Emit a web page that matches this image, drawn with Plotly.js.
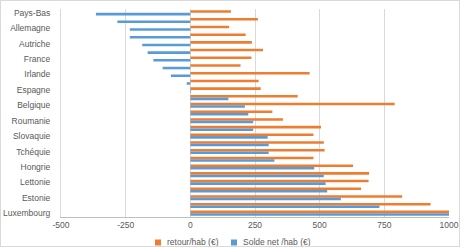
<!DOCTYPE html>
<html>
<head>
<meta charset="utf-8">
<script src="https://cdn.plot.ly/plotly-3.0.1.min.js"></script>
<style>
html,body{margin:0;padding:0;background:#fff;}
#chart{width:458px;height:245px;border:1px solid #d9d9d9;}
</style>
</head>
<body>
<div id="chart"></div>
<script>
const countries = ["Pays-Bas","Suède","Allemagne","Danemark","Autriche","Finlande","France","Italie","Irlande","Chypre","Espagne","Slovénie","Belgique","Malte","Roumanie","Croatie","Slovaquie","Bulgarie","Tchéquie","Pologne","Hongrie","Portugal","Lettonie","Lituanie","Estonie","Grèce","Luxembourg"];
const labeled = ["Pays-Bas","Allemagne","Autriche","France","Irlande","Espagne","Belgique","Roumanie","Slovaquie","Tchéquie","Hongrie","Lettonie","Estonie","Luxembourg"];
const retour = [157,261,150,214,238,281,236,194,461,264,272,415,790,317,358,505,476,516,519,476,629,691,689,660,819,929,1000];
const solde = [-365,-282,-234,-234,-186,-165,-143,-107,-75,-14,3,147,211,224,243,243,299,303,303,325,479,516,523,529,582,731,1000];
const xTicks = [-500,-250,0,250,500,750,1000];
const seriesNames = ["retour/hab (€)","Solde net /hab (€)"];
const seriesColors = ["#ED7D31","#5B9BD5"];

const font = {family:"Liberation Sans, Arial, sans-serif", size:8.5, color:"#595959"};
const traces = [
  {type:"bar", orientation:"h", name:seriesNames[0], y:countries, x:retour, marker:{color:seriesColors[0]}},
  {type:"bar", orientation:"h", name:seriesNames[1], y:countries, x:solde, marker:{color:seriesColors[1]}}
];

// custom legend (small squares like the reference)
const W = 388, H = 208;
const px = v => (v - 61) / W;
const py = v => (217 - v) / H;
const legSq = [[155,161],[231,237]];
const legTx = [165,241];
const shapes = [], annotations = [];
for (let i = 0; i < 2; i++) {
  shapes.push({type:"rect", xref:"paper", yref:"paper", x0:px(legSq[i][0]), x1:px(legSq[i][1]), y0:py(239.5), y1:py(245.5), fillcolor:seriesColors[i], line:{width:0}});
  annotations.push({xref:"paper", yref:"paper", x:px(legTx[i]), y:py(242.5), xanchor:"left", yanchor:"middle", text:seriesNames[i], showarrow:false, font:font});
}

const layout = {
  width:458, height:245,
  margin:{l:60, r:10, t:8, b:29, autoexpand:false},
  paper_bgcolor:"#fff", plot_bgcolor:"#fff",
  font:font,
  barmode:"group", bargap:0.34, bargroupgap:0,
  showlegend:false,
  shapes:shapes, annotations:annotations,
  xaxis:{range:[-500,1000], tickvals:xTicks, ticktext:xTicks.map(String), showgrid:true, gridcolor:"#d9d9d9", zeroline:false, showline:true, linecolor:"#bfbfbf", ticks:"", tickfont:font, fixedrange:true},
  yaxis:{type:"category", autorange:"reversed", tickmode:"array", tickvals:labeled, ticktext:labeled, showgrid:false, zeroline:false, showline:true, linecolor:"#d9d9d9", ticks:"outside", ticklen:8, tickcolor:"rgba(0,0,0,0)", tickfont:font}
};
Plotly.newPlot("chart", traces, layout, {displayModeBar:false, staticPlot:true});
</script>
</body>
</html>
